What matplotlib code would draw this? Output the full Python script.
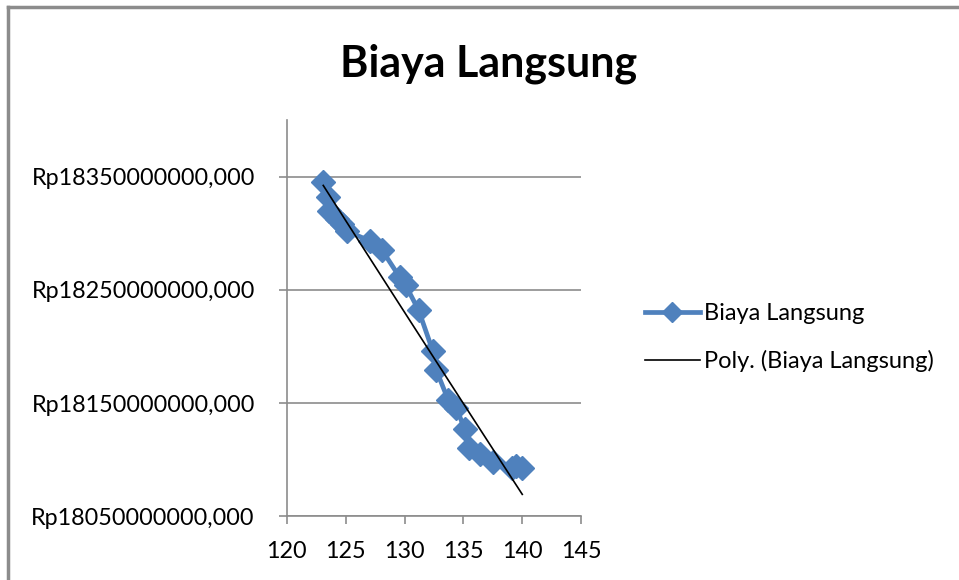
import numpy as np
import matplotlib
matplotlib.use("Agg")
import matplotlib.pyplot as plt
from matplotlib.lines import Line2D

# data (x: durasi, y: biaya langsung in Rp)
durasi = [123.1, 123.5, 123.6, 124.3, 124.7, 125.1, 127.1, 128.1, 129.6, 130.1,
          131.2, 132.4, 132.7, 133.7, 134.4, 135.1, 135.5, 136.4, 137.5, 139.1,
          139.5, 140.0]
biaya = [18345e6, 18332e6, 18320e6, 18313e6, 18308e6, 18302e6, 18293e6, 18285e6,
         18261e6, 18254e6, 18232e6, 18196e6, 18179e6, 18153e6, 18146e6, 18127e6,
         18110e6, 18105e6, 18098e6, 18093e6, 18094e6, 18093e6]
yticks = [18050e6, 18150e6, 18250e6, 18350e6]
xticks = [120, 125, 130, 135, 140, 145]

plt.rcParams['font.family'] = ['Lato', 'DejaVu Sans']
blue = '#4F81BD'

fig = plt.figure(figsize=(9.59, 5.8), dpi=100)
ax = fig.add_axes([0.299, 0.110, 0.307, 0.683])

ax.plot(durasi, biaya, color=blue, lw=3.4, marker='D', ms=12, zorder=3)

# polynomial (order 2) trendline like excel
c = np.polyfit(durasi, biaya, 2)
xs = np.linspace(min(durasi), max(durasi), 100)
ax.plot(xs, np.polyval(c, xs), color='black', lw=1.2, zorder=4)

ax.set_xlim(120, 145)
ax.set_ylim(18050e6, 18400e6)
ax.set_xticks(xticks)
ax.set_yticks(yticks)
ax.set_yticklabels(['Rp%d,000' % v for v in yticks])
ax.grid(axis='y', color='#8c8c8c', lw=1.2)
ax.set_axisbelow(True)
for s in ['top', 'right']:
    ax.spines[s].set_visible(False)
for s in ['left', 'bottom']:
    ax.spines[s].set_color('#8c8c8c')
    ax.spines[s].set_linewidth(1.2)
ax.tick_params(colors='#8c8c8c', length=6, width=1.2, labelcolor='black',
               labelsize=16.8)
ax.tick_params(axis='x', pad=12)
ax.tick_params(axis='y', pad=17)

fig.text(0.509, 0.89, 'Biaya Langsung', ha='center', va='center',
         fontsize=31, fontweight='bold')

handles = [Line2D([], [], color=blue, lw=3.4, marker='D', ms=10),
           Line2D([], [], color='black', lw=1.2)]
fig.legend(handles, ['Biaya Langsung', 'Poly. (Biaya Langsung)'],
           loc='center left', bbox_to_anchor=(0.650, 0.418), frameon=False,
           fontsize=17, handlelength=2.35, handletextpad=0.15, labelspacing=1.1)

# chart area border (top and left visible)
fig.add_artist(Line2D([0.008, 0.008], [0, 0.988], color='#8c8c8c', lw=2.5))
fig.add_artist(Line2D([0.008, 1], [0.988, 0.988], color='#8c8c8c', lw=2.5))

fig.savefig('out.png', dpi=100)
